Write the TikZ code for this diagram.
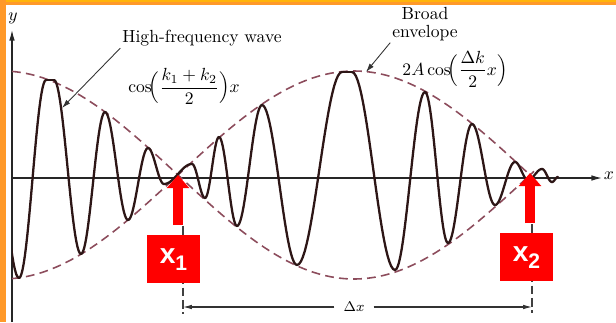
\documentclass[tikz,border=0pt]{standalone}
\usepackage{amsmath}
\usepackage{fontspec}
\newfontfamily\tagfont{Liberation Sans}
\usetikzlibrary{positioning, arrows.meta}
\definecolor{framecol}{RGB}{255,153,41}
\definecolor{framehi}{RGB}{255,180,10}
\definecolor{wavecol}{RGB}{45,22,22}
\definecolor{envcol}{RGB}{140,76,92}
\definecolor{tagred}{RGB}{255,0,0}

\begin{document}
\begin{tikzpicture}[
  x=0.02cm, y=-0.02cm,
  axis/.style={draw=black!85,line width=0.7pt,-{Latex[length=6pt,width=3.2pt]}},
  carrier/.style={draw=wavecol,line width=1.3pt,line cap=round,line join=round},
  envelope/.style={draw=envcol,line width=0.9pt,dash pattern=on 5pt off 3pt},
  pointer/.style={draw=black!80,line width=0.5pt,-{Latex[length=5pt,width=3pt]}},
  redarrow/.style={draw=tagred,line width=5.7pt,-{Triangle[length=7.5pt,width=12.5pt]}},
  guide/.style={draw=black!75,line width=0.6pt,dash pattern=on 5pt off 2pt},
  dimline/.style={draw=black!80,line width=0.6pt,-{Latex[length=5pt,width=2.6pt]}},
  tagbox/.style={fill=tagred,text=white,minimum width=1.06cm,minimum height=0.96cm,inner sep=0pt,font=\tagfont\bfseries\fontsize{16}{18}\selectfont},
  txt/.style={inner sep=1pt,align=center},
]
\useasboundingbox (0,0) rectangle (616,322);

\fill[framecol] (0,0) rectangle (616,5);
\fill[framehi] (0,0) rectangle (616,1.5);
\fill[framecol] (0,0) rectangle (6,322);

\coordinate (o) at (12,178);
\coordinate (ytop) at (12,30);
\coordinate (ybot) at (12,322);
\coordinate (xend) at (602,178);
\draw[axis] (ybot) -- (ytop);
\draw[axis] (o) -- (xend);
\node[txt] (ylab) at (13,18) {$y$};
\node[inner sep=0pt] (xlab) at (609,176) {$x$};

\draw[envelope] plot[domain=12:534,samples=140,variable=\x] (\x,{175-104*cos(0.51136*(\x-354))});
\draw[envelope] plot[domain=12:534,samples=140,variable=\x] (\x,{175+104*cos(0.51136*(\x-354))});

\begin{scope}
\clip (12,0) rectangle (616,322);
\foreach \xa/\ya/\xb/\yb in {-12/80/19/278, 19/278/46/80, 46/80/54/80, 54/80/81/254,
  81/254/105/112, 105/112/128/220, 128/220/148/148, 148/148/164/184, 164/184/192/164,
  192/164/205/198, 205/198/219/137, 219/137/237/226, 237/226/262/105, 262/105/297/265,
  297/265/342/72, 342/72/352/72, 352/72/395/270, 395/270/425/92, 425/92/448/243,
  448/243/472/124, 472/124/495/205, 495/205/515/162, 515/162/528/180, 528/180/542/169,
  542/169/552/182, 552/182/558/177} {
  \draw[carrier] plot[domain=0:1,samples=24,variable=\t]
    ({\xa+\t*(\xb-(\xa))},{(\ya+\yb)/2+(\ya-\yb)/2*cos(180*\t)});
}
\end{scope}

\coordinate (g1a) at (183,226);
\coordinate (g1b) at (183,314);
\coordinate (g2a) at (532,224);
\coordinate (g2b) at (532,313);
\draw[guide] (g1a) -- (g1b);
\draw[guide] (g2a) -- (g2b);

\coordinate (d1) at (183,307);
\coordinate (d2) at (532,307);
\node[txt,fill=white,inner xsep=5pt,font=\footnotesize] (dx) at (354,307) {$\Delta x$};
\draw[dimline] (dx) -- (d1);
\draw[dimline] (dx) -- (d2);

\coordinate (n1) at (178,175);
\coordinate (a1) at (178,225);
\coordinate (n2) at (530,173);
\coordinate (a2) at (530,223);
\draw[redarrow] (a1) -- (n1);
\draw[redarrow] (a2) -- (n2);

\node[tagbox,below=0.2cm of a1,xshift=-0.09cm] (t1) {x\raisebox{-4pt}{\fontsize{12}{12}\selectfont 1}};
\node[tagbox,below=0.2cm of a2,xshift=-0.07cm] (t2) {x\raisebox{-4pt}{\fontsize{12}{12}\selectfont 2}};

\node[txt] (hfw) at (202,38) {High-frequency wave};
\node[txt,below=0.36cm of hfw,xshift=-0.36cm] (f1) {$\displaystyle\cos\!\Bigl(\frac{k_1+k_2}{2}\Bigr)x$};
\node[txt] (broad) at (425,24) {Broad\\[-2pt]envelope};
\node[txt] (f2) at (455,69) {$\displaystyle 2A\cos\!\Bigl(\frac{\Delta k}{2}x\Bigr)$};

\coordinate (hfwtip) at (62,108);
\coordinate (envtip) at (366,72);
\draw[pointer] (hfw.south west) -- (hfwtip);
\draw[pointer] (broad.south west) -- (envtip);
\end{tikzpicture}
\end{document}
